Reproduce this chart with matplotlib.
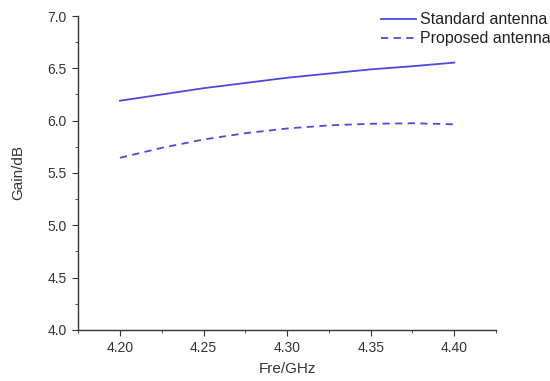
import numpy as np
import matplotlib.pyplot as plt
from matplotlib.ticker import MultipleLocator

plt.rcParams['font.family'] = ['Liberation Sans', 'DejaVu Sans']

# Данные
freq = [4.200, 4.225, 4.250, 4.275, 4.300, 4.325, 4.350, 4.375, 4.400]
gain_standard = [6.19, 6.25, 6.31, 6.36, 6.41, 6.45, 6.49, 6.52, 6.555]
gain_proposed = [5.645, 5.74, 5.82, 5.88, 5.925, 5.955, 5.97, 5.975, 5.965]

color = '#4a4ae0'

fig = plt.figure(figsize=(5.5, 3.81), dpi=100)
ax = fig.add_axes([0.142, 0.134, 0.760, 0.824])

ax.plot(freq, gain_standard, color=color, linewidth=1.3, label='Standard antenna')
ax.plot(freq, gain_proposed, color=color, linewidth=1.3, linestyle=(0, (4, 3)),
        label='Proposed antenna')

ax.set_xlim(4.175, 4.425)
ax.set_ylim(4.0, 7.0)
ax.xaxis.set_major_locator(MultipleLocator(0.05))
ax.xaxis.set_minor_locator(MultipleLocator(0.025))
ax.yaxis.set_major_locator(MultipleLocator(0.5))
ax.yaxis.set_minor_locator(MultipleLocator(0.25))
ax.xaxis.set_major_formatter(plt.FormatStrFormatter('%.2f'))
ax.yaxis.set_major_formatter(plt.FormatStrFormatter('%.1f'))

for s in ['top', 'right']:
    ax.spines[s].set_visible(False)
for s in ['left', 'bottom']:
    ax.spines[s].set_color('#333333')
    ax.spines[s].set_linewidth(1.0)

ax.tick_params(which='major', direction='out', length=4, color='#333333',
               labelsize=10, labelcolor='#333333', pad=4)
ax.tick_params(which='minor', direction='out', length=2.5, color='#333333')

ax.set_xlabel('Fre/GHz', fontsize=11, color='#333333', labelpad=5)
ax.set_ylabel('Gain/dB', fontsize=11, color='#333333', labelpad=16)

fig.legend(loc='upper right', bbox_to_anchor=(1.028, 1.005), frameon=False,
           fontsize=11.5, handlelength=2.2, handletextpad=0.25, labelspacing=0.25,
           labelcolor='#222222')

fig.savefig('out.png', dpi=100)
